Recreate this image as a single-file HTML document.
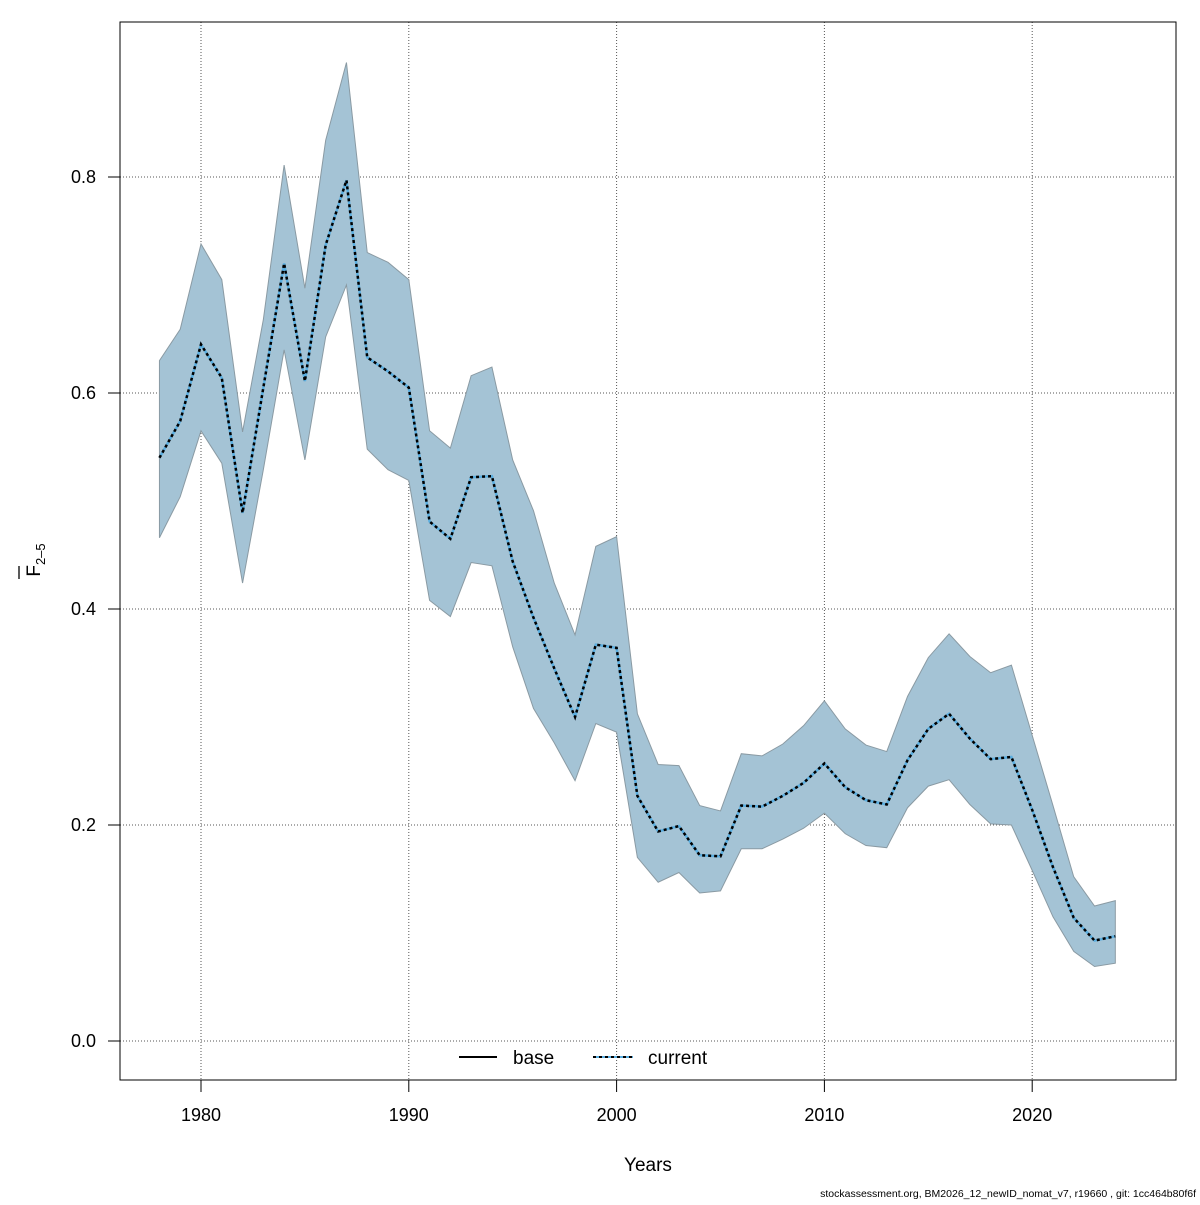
<!DOCTYPE html>
<html><head><meta charset="utf-8"><style>
body{margin:0;background:#fff}
svg text{font-family:"Liberation Sans",sans-serif}
</style></head><body>
<svg id="chart" width="1200" height="1200" xmlns="http://www.w3.org/2000/svg"></svg>
<script>
const years=[];for(let y=1978;y<=2024;y++)years.push(y);
const fbar=[0.540,0.574,0.645,0.614,0.489,0.605,0.720,0.611,0.737,0.797,0.633,0.620,0.605,0.481,0.465,0.522,0.523,0.444,0.392,0.345,0.300,0.367,0.364,0.227,0.194,0.199,0.172,0.171,0.218,0.217,0.227,0.239,0.257,0.235,0.223,0.219,0.260,0.289,0.303,0.280,0.261,0.263,0.214,0.161,0.114,0.093,0.097];
const upper=[0.630,0.659,0.738,0.705,0.564,0.668,0.811,0.697,0.834,0.906,0.730,0.721,0.705,0.565,0.549,0.616,0.624,0.538,0.491,0.424,0.376,0.458,0.467,0.303,0.256,0.255,0.218,0.213,0.266,0.264,0.275,0.292,0.315,0.289,0.274,0.268,0.319,0.355,0.377,0.356,0.341,0.348,0.283,0.218,0.152,0.125,0.130];
const lower=[0.466,0.504,0.565,0.535,0.424,0.529,0.640,0.538,0.652,0.700,0.548,0.529,0.519,0.408,0.393,0.443,0.440,0.365,0.308,0.276,0.241,0.294,0.286,0.170,0.147,0.156,0.137,0.139,0.178,0.178,0.187,0.197,0.211,0.192,0.181,0.179,0.216,0.236,0.242,0.219,0.201,0.200,0.158,0.115,0.083,0.069,0.072];
const xTicks=[1980,1990,2000,2010,2020];
const yTicks=[0.0,0.2,0.4,0.6,0.8];
const yTickLabels=["0.0","0.2","0.4","0.6","0.8"];

const X=v=>201+(v-1980)*20.78;
const Y=v=>1041-v*1080;
const svg=document.getElementById('chart');
const NS='http://www.w3.org/2000/svg';
function mk(tag,attrs,parent){const e=document.createElementNS(NS,tag);for(const k in attrs)e.setAttribute(k,attrs[k]);(parent||svg).appendChild(e);return e;}

xTicks.forEach(t=>{const l=mk('line',{x1:X(t),x2:X(t),y1:22,y2:1080,stroke:'#555','stroke-dasharray':'1,2','stroke-width':1});

});
yTicks.forEach(t=>{const l=mk('line',{x1:120,x2:1176,y1:Y(t),y2:Y(t),stroke:'#555','stroke-dasharray':'1,2','stroke-width':1});

});

let pts=years.map((y,i)=>X(y)+','+Y(upper[i]));
for(let i=years.length-1;i>=0;i--)pts.push(X(years[i])+','+Y(lower[i]));
const band=mk('polygon',{points:pts.join(' '),fill:'#a4c3d5',stroke:'#8a9aa3','stroke-width':1});



const lp=years.map((y,i)=>X(y)+','+Y(fbar[i])).join(' ');
const base=mk('polyline',{points:lp,fill:'none',stroke:'#5aaee0','stroke-width':2.5});


const cur=mk('polyline',{points:lp,fill:'none',stroke:'#000','stroke-width':2.5,'stroke-dasharray':'3,3'});



const box=mk('rect',{x:120,y:22,width:1056,height:1058,fill:'none',stroke:'#000','stroke-width':1});



xTicks.forEach(t=>{mk('line',{x1:X(t),x2:X(t),y1:1080,y2:1092,stroke:'#000'});
const tx=mk('text',{x:X(t),y:1121,'text-anchor':'middle','font-size':18});tx.textContent=t;

});
yTicks.forEach((t,i)=>{mk('line',{x1:108,x2:120,y1:Y(t),y2:Y(t),stroke:'#000'});
const tx=mk('text',{x:96,y:Y(t)+6,'text-anchor':'end','font-size':18});tx.textContent=yTickLabels[i];

});
</script>
<svg style="position:absolute;left:0;top:0" width="1200" height="1200">
<text x="648" y="1171" text-anchor="middle" font-size="19">Years</text>
<g transform="rotate(-90 40 560)">
<text x="40" y="560" font-size="19" text-anchor="middle">F<tspan font-size="13" dy="5">2–5</tspan></text>
<line x1="21" x2="34" y1="539" y2="539" stroke="#000" stroke-width="1.3"/>
</g>
<g>
<line x1="459" x2="497" y1="1057" y2="1057" stroke="#000" stroke-width="2"/>
<text x="513" y="1064" font-size="19">base</text>
<line x1="593" x2="633" y1="1057" y2="1057" stroke="#5aaee0" stroke-width="2"/>
<line x1="593" x2="633" y1="1057" y2="1057" stroke="#000" stroke-width="2" stroke-dasharray="3,3"/>
<text x="648" y="1064" font-size="19">current</text>
</g>
<text x="1196" y="1197" text-anchor="end" font-size="10.5">stockassessment.org, BM2026_12_newID_nomat_v7, r19660 , git: 1cc464b80f6f</text>
</svg>
</body></html>
